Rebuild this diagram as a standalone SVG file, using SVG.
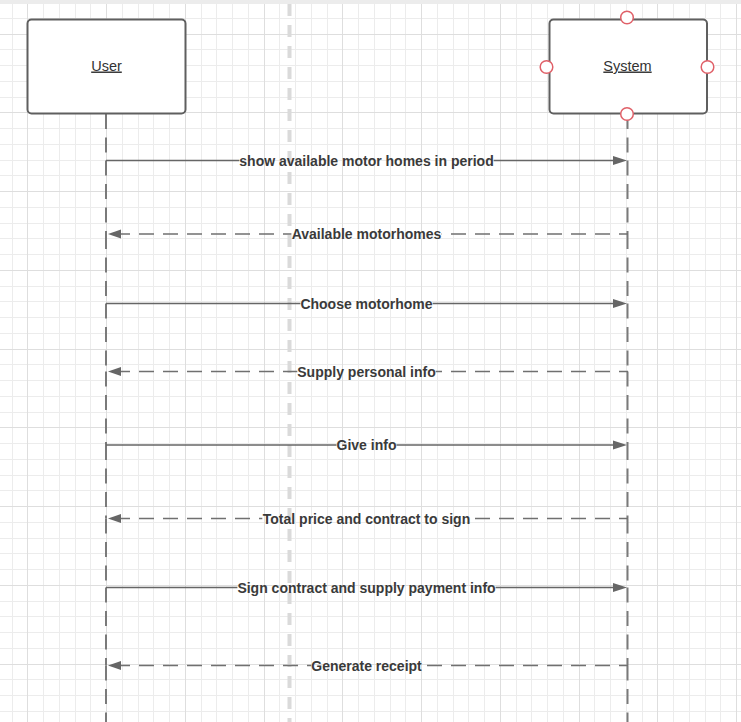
<svg xmlns="http://www.w3.org/2000/svg" width="741" height="722" viewBox="0 0 741 722">
<style>
.minor{stroke:#ececec;stroke-width:1;fill:none}
.major{stroke:#dedede;stroke-width:1;fill:none}
.box{fill:#ffffff;stroke:#5f5f5f;stroke-width:2}
.name{font-family:"Liberation Sans",Arial,sans-serif;font-size:14.5px;fill:#333333;text-anchor:middle;text-decoration:underline}
.lbl{font-family:"Liberation Sans",Arial,sans-serif;font-size:14px;font-weight:bold;fill:#3a3a3a;text-anchor:middle}
.life{stroke:#7a7a7a;stroke-width:2;stroke-dasharray:15 8.5;fill:none}
.sync{stroke:#666666;stroke-width:1.5;fill:none}
.ret{stroke:#707070;stroke-width:1.5;fill:none;stroke-dasharray:15 9;stroke-dashoffset:6}
.head{fill:#666666}
.port{fill:#ffffff;stroke:#e06068;stroke-width:1.5}
</style>
<defs>
<mask id="labelgaps" maskUnits="userSpaceOnUse" x="0" y="0" width="741" height="722">
<rect x="0" y="0" width="741" height="722" fill="#ffffff"/>
<rect x="239.3" y="155" width="254.4" height="11" fill="#000000"/>
<rect x="291.4" y="228.5" width="150.2" height="11" fill="#000000"/>
<rect x="300.4" y="298" width="132.2" height="11" fill="#000000"/>
<rect x="297.3" y="366" width="138.4" height="11" fill="#000000"/>
<rect x="336.5" y="439.5" width="60" height="11" fill="#000000"/>
<rect x="262.3" y="513" width="208.5" height="11" fill="#000000"/>
<rect x="237.4" y="582" width="258.2" height="11" fill="#000000"/>
<rect x="311.3" y="660" width="110.4" height="11" fill="#000000"/>
</mask>
</defs>
<g id="background">
<rect x="0" y="0" width="741" height="722" fill="#ffffff"/>
<path class="minor" d="M12.5 4V722M43.5 4V722M59.5 4V722M75.5 4V722M90.5 4V722M122.5 4V722M138.5 4V722M153.5 4V722M169.5 4V722M201.5 4V722M216.5 4V722M232.5 4V722M248.5 4V722M279.5 4V722M295.5 4V722M311.5 4V722M327.5 4V722M358.5 4V722M374.5 4V722M390.5 4V722M405.5 4V722M437.5 4V722M453.5 4V722M468.5 4V722M484.5 4V722M516.5 4V722M531.5 4V722M547.5 4V722M563.5 4V722M594.5 4V722M610.5 4V722M626.5 4V722M642.5 4V722M673.5 4V722M689.5 4V722M705.5 4V722M720.5 4V722"/>
<path class="minor" d="M0 18.5H741M0 49.5H741M0 65.5H741M0 81.5H741M0 97.5H741M0 128.5H741M0 144.5H741M0 160.5H741M0 175.5H741M0 207.5H741M0 223.5H741M0 238.5H741M0 254.5H741M0 286.5H741M0 301.5H741M0 317.5H741M0 333.5H741M0 364.5H741M0 380.5H741M0 396.5H741M0 412.5H741M0 443.5H741M0 459.5H741M0 475.5H741M0 490.5H741M0 522.5H741M0 538.5H741M0 553.5H741M0 569.5H741M0 601.5H741M0 616.5H741M0 632.5H741M0 648.5H741M0 679.5H741M0 695.5H741M0 711.5H741"/>
<path class="major" d="M27.5 4V722M106.5 4V722M185.5 4V722M264.5 4V722M342.5 4V722M421.5 4V722M500.5 4V722M579.5 4V722M657.5 4V722M736.5 4V722"/>
<path class="major" d="M0 34.5H741M0 112.5H741M0 191.5H741M0 270.5H741M0 349.5H741M0 427.5H741M0 506.5H741M0 585.5H741M0 664.5H741"/>
<rect x="0" y="0" width="741" height="4" fill="#ececec"/>
<line x1="289.5" y1="4" x2="289.5" y2="722" stroke="#dadada" stroke-width="4" stroke-dasharray="12 9"/>
</g>
<g id="lifelines">
<line class="life" x1="106" y1="114" x2="106" y2="160.5"/>
<line class="life" x1="106" y1="160.5" x2="106" y2="234"/>
<line class="life" x1="106" y1="234" x2="106" y2="303.5"/>
<line class="life" x1="106" y1="303.5" x2="106" y2="371.5"/>
<line class="life" x1="106" y1="371.5" x2="106" y2="445"/>
<line class="life" x1="106" y1="445" x2="106" y2="518.5"/>
<line class="life" x1="106" y1="518.5" x2="106" y2="587.5"/>
<line class="life" x1="106" y1="587.5" x2="106" y2="665.5"/>
<line class="life" x1="106" y1="665.5" x2="106" y2="722"/>
<line class="life" x1="627.5" y1="114" x2="627.5" y2="160.5"/>
<line class="life" x1="627.5" y1="160.5" x2="627.5" y2="234"/>
<line class="life" x1="627.5" y1="234" x2="627.5" y2="303.5"/>
<line class="life" x1="627.5" y1="303.5" x2="627.5" y2="371.5"/>
<line class="life" x1="627.5" y1="371.5" x2="627.5" y2="445"/>
<line class="life" x1="627.5" y1="445" x2="627.5" y2="518.5"/>
<line class="life" x1="627.5" y1="518.5" x2="627.5" y2="587.5"/>
<line class="life" x1="627.5" y1="587.5" x2="627.5" y2="665.5"/>
<line class="life" x1="627.5" y1="665.5" x2="627.5" y2="722"/>
</g>
<g id="user">
<rect class="box" x="27.5" y="19.5" width="158" height="94" rx="4"/>
<text class="name" x="106.5" y="70.5">User</text>
</g>
<g id="system">
<rect class="box" x="549.5" y="19.5" width="157.5" height="94" rx="4"/>
<text class="name" x="627.5" y="70.5">System</text>
<circle class="port" cx="627" cy="17.5" r="6.3"/>
<circle class="port" cx="546.5" cy="67" r="6.3"/>
<circle class="port" cx="707.5" cy="67" r="6.3"/>
<circle class="port" cx="627" cy="114" r="6.3"/>
</g>
<g id="connectors">
<g mask="url(#labelgaps)">
<path class="sync" d="M106 160.5H615"/>
<path class="ret" d="M628 234H120"/>
<path class="sync" d="M106 303.5H615"/>
<path class="ret" d="M628 371.5H120"/>
<path class="sync" d="M106 445H615"/>
<path class="ret" d="M628 518.5H120"/>
<path class="sync" d="M106 587.5H615"/>
<path class="ret" d="M628 665.5H120"/>
</g>
<polygon class="head" points="627,160.5 613,156 613,165"/>
<polygon class="head" points="108,234 121,229.5 121,238.5"/>
<polygon class="head" points="627,303.5 613,299 613,308"/>
<polygon class="head" points="108,371.5 121,367 121,376"/>
<polygon class="head" points="627,445 613,440.5 613,449.5"/>
<polygon class="head" points="108,518.5 121,514 121,523"/>
<polygon class="head" points="627,587.5 613,583 613,592"/>
<polygon class="head" points="108,665.5 121,661 121,670"/>
<text class="lbl" x="366.5" y="165.5">show available motor homes in period</text>
<text class="lbl" x="366.5" y="239">Available motorhomes</text>
<text class="lbl" x="366.5" y="308.5">Choose motorhome</text>
<text class="lbl" x="366.5" y="376.5">Supply personal info</text>
<text class="lbl" x="366.5" y="450">Give info</text>
<text class="lbl" x="366.5" y="523.5">Total price and contract to sign</text>
<text class="lbl" x="366.5" y="592.5">Sign contract and supply payment info</text>
<text class="lbl" x="366.5" y="670.5">Generate receipt</text>
</g>
</svg>
